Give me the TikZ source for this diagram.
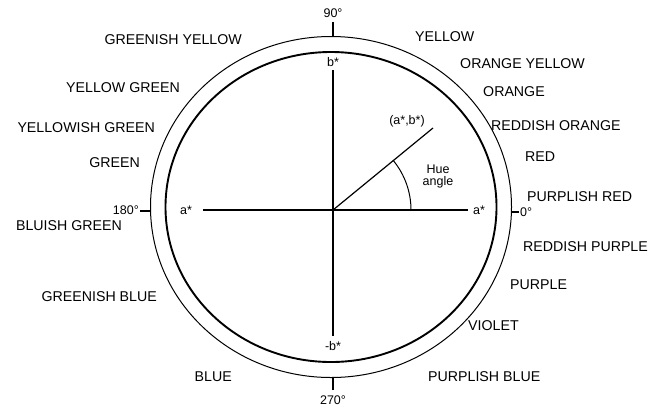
\documentclass[tikz,border=0pt]{standalone}
\usepackage{fontspec}
\setmainfont{Liberation Sans}
\begin{document}
\begin{tikzpicture}[x=1bp,y=-1bp,
  hue/.style={font=\fontsize{14.2bp}{15bp}\selectfont, inner sep=0pt},
  axlab/.style={font=\fontsize{12.5bp}{13bp}\selectfont, inner sep=0pt},
  ring/.style={line width=1bp},
  ringin/.style={line width=1.9bp},
  axis/.style={line width=1.2bp}]
\useasboundingbox (0,0) rectangle (648,412);
% circles
\coordinate (c) at (333,210);
\coordinate (e) at (331,207);
\draw[ring] (e) ellipse[x radius=180.5bp, y radius=170.5bp];
\draw[ringin] (e) ellipse[x radius=165.5bp, y radius=155bp];
% axis labels
\node[axlab] (aL) at (186,210) {a*};
\node[axlab] (aR) at (479,210) {a*};
\node[axlab] (bT) at (333,62) {b*};
\node[axlab] (bB) at (333,346) {-b*};
\coordinate (hl) at (203,210);
\coordinate (hr) at (468,210);
\coordinate (vt) at (333,70);
\coordinate (vb) at (333,336);
\draw[axis] (hl) -- (hr);
\draw[axis] (vt) -- (vb);
% hue vector
\node[axlab] (ab) at (407,121) {(a*,b*)};
\coordinate (p) at (433,128);
\draw[axis] (c) -- (p);
\draw[line width=1bp] (c) ++(78,0) arc[start angle=0, end angle=39.4, radius=78bp];
\node[axlab, align=center] (ha) at (438,176) {Hue\\[-1bp]angle};
% degree ticks
\node[axlab] (d90) at (333,13) {90°};
\node[axlab] (d270) at (333,400) {270°};
\node[axlab, anchor=east] (d180) at (139,210) {180°};
\node[axlab, anchor=west] (d0) at (520,212) {0°};
\coordinate (t90a) at (333,22); \coordinate (t90b) at (333,36.5);
\coordinate (t270a) at (333,377); \coordinate (t270b) at (333,390);
\coordinate (t180a) at (140,211); \coordinate (t180b) at (150.5,211);
\coordinate (t0a) at (511.5,212); \coordinate (t0b) at (519,212);
\draw[axis] (t90a) -- (t90b);
\draw[axis] (t270a) -- (t270b);
\draw[axis] (t180a) -- (t180b);
\draw[axis] (t0a) -- (t0b);
% hue names, left side
\node[hue, anchor=east] (gy) at (242,40) {GREENISH YELLOW};
\node[hue, anchor=east] (yg) at (180,88) {YELLOW GREEN};
\node[hue, anchor=east] (ywg) at (155,128) {YELLOWISH GREEN};
\node[hue, anchor=east] (g) at (140,163) {GREEN};
\node[hue, anchor=east] (bg) at (122,226) {BLUISH GREEN};
\node[hue, anchor=east] (gb) at (157,297) {GREENISH BLUE};
\node[hue, anchor=east] (b) at (232,377) {BLUE};
% hue names, right side
\node[hue, anchor=west] (y) at (415,37) {YELLOW};
\node[hue, anchor=west] (oy) at (460,64) {ORANGE YELLOW};
\node[hue, anchor=west] (o) at (483,92) {ORANGE};
\node[hue, anchor=west] (ro) at (491,126) {REDDISH ORANGE};
\node[hue, anchor=west] (r) at (525,157) {RED};
\node[hue, anchor=west] (pr) at (527,197) {PURPLISH RED};
\node[hue, anchor=west] (rp) at (523,247) {REDDISH PURPLE};
\node[hue, anchor=west] (pu) at (510,285) {PURPLE};
\node[hue, anchor=west] (v) at (468,326) {VIOLET};
\node[hue, anchor=west] (pb) at (428,377) {PURPLISH BLUE};
\end{tikzpicture}
\end{document}
